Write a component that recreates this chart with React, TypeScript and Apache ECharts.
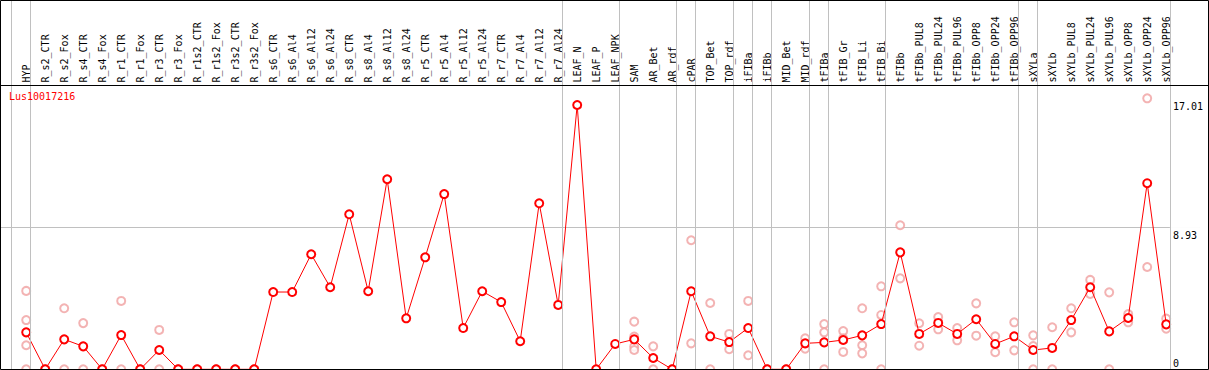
import React, { useEffect, useRef } from "react";
import * as echarts from "echarts";

const categories: string[] = [
  "HYP", "R_s2_CTR", "R_s2_Fox", "R_s4_CTR", "R_s4_Fox", "R_r1_CTR", "R_r1_Fox",
  "R_r3_CTR", "R_r3_Fox", "R_r1s2_CTR", "R_r1s2_Fox", "R_r3s2_CTR", "R_r3s2_Fox",
  "R_s6_CTR", "R_s6_Al4", "R_s6_Al12", "R_s6_Al24", "R_s8_CTR", "R_s8_Al4", "R_s8_Al12",
  "R_s8_Al24", "R_r5_CTR", "R_r5_Al4", "R_r5_Al12", "R_r5_Al24", "R_r7_CTR", "R_r7_Al4",
  "R_r7_Al12", "R_r7_Al24", "LEAF_N", "LEAF_P", "LEAF_NPK", "SAM", "AR_Bet", "AR_rdf",
  "cPAR", "TOP_Bet", "TOP_rdf", "iFIBa", "iFIBb", "MID_Bet", "MID_rdf", "tFIBa",
  "tFIB_Gr", "tFIB_Li", "tFIB_Bi", "tFIBb", "tFIBb_PUL8", "tFIBb_PUL24", "tFIBb_PUL96",
  "tFIBb_OPP8", "tFIBb_OPP24", "tFIBb_OPP96", "sXYLa", "sXYLb", "sXYLb_PUL8",
  "sXYLb_PUL24", "sXYLb_PUL96", "sXYLb_OPP8", "sXYLb_OPP24", "sXYLb_OPP96",
];

// mean expression per sample
const means: number[] = [
  2.32, 0, 1.88, 1.44, 0, 2.15, 0, 1.21, 0, 0, 0, 0, 0,
  4.85, 4.85, 7.22, 5.15, 9.73, 4.9, 11.93, 3.2, 7.03, 11.0, 2.59, 4.9, 4.22, 1.76,
  10.42, 4.04, 16.59, 0, 1.59, 1.88, 0.71, 0, 4.9, 2.07, 1.71, 2.59, 0, 0, 1.63, 1.69,
  1.84, 2.13, 2.84, 7.34, 2.22, 2.91, 2.22, 3.14, 1.59, 2.07, 1.21, 1.34, 3.09,
  5.15, 2.38, 3.22, 11.68, 2.82,
];

// individual replicate values per sample (same order as categories)
const replicates: number[][] = [
  [4.92, 3.09, 1.51, 0], [0, 0], [3.83, 0], [2.9, 0], [0, 0], [4.29, 0], [0, 0],
  [2.47, 0], [0, 0], [0, 0], [0, 0], [0, 0], [0, 0],
  [], [], [], [], [], [], [], [], [], [], [], [], [], [], [], [], [], [], [],
  [2.99, 2.05, 1.42, 1.21], [1.44, 0], [0, 0], [8.1, 1.63], [4.16, 0], [2.22, 1.26],
  [4.29, 0.88], [0, 0], [0, 0], [1.95, 1.29], [2.84, 2.32, 0], [2.4, 1.95, 1.09],
  [3.83, 1.51, 1.0], [5.21, 3.41, 0], [9.04, 5.71], [2.89, 1.48], [3.28, 2.51],
  [2.59, 1.82], [4.14, 2.11], [2.07, 1.07], [2.95, 1.19], [2.13, 1.46, 0], [2.64, 0],
  [3.83, 2.32], [5.61, 4.73], [4.83, 0], [3.47, 2.95], [17.01, 6.42], [3.18, 2.55],
];

// sample groups: a separator line follows each of these samples
const groupEnds: string[] = [
  "HYP", "R_r7_Al24", "LEAF_NPK", "AR_rdf", "cPAR", "TOP_rdf", "iFIBa", "iFIBb",
  "MID_rdf", "tFIBa", "tFIB_Bi", "tFIBb_OPP96", "sXYLa", "sXYLb_OPP96",
];

const yTickLabels = { max: 17.01, mid: 8.93 };
const geneName = "Lus10017216";

const W = 1209;
const H = 370;
const MONO = "'DejaVu Sans Mono', monospace";
const FIRST_CENTER = 26.2;
const BAND = 19;
const SEP_OFFSET = 4.3 / BAND;
const HEADER_Y = 85.5;
const PLOT_TOP = 98.3;
const PLOT_BOTTOM = 0.7;

export default function App() {
  const ref = useRef<HTMLDivElement>(null);

  useEffect(() => {
    document.body.style.margin = "0";
    if (!ref.current) return;
    const chart = echarts.init(ref.current, undefined, { renderer: "svg" });

    const left = FIRST_CENTER - BAND / 2;
    const bandWidth = BAND * categories.length;
    const right = W - left - bandWidth;

    const sepIdx = [-1, ...groupEnds.map((n) => categories.indexOf(n))];

    const repData: [string, number][] = [];
    replicates.forEach((reps, i) => {
      reps.forEach((v) => repData.push([categories[i], v]));
    });

    chart.setOption({
      animation: false,
      backgroundColor: "#fff",
      title: {
        text: geneName,
        left: 9,
        top: 91,
        padding: 0,
        textStyle: { color: "#ff0000", fontSize: 10, fontFamily: MONO, fontWeight: "normal" },
      },
      grid: [
        { left, right, top: PLOT_TOP, bottom: PLOT_BOTTOM },
        { left, right, top: 0, height: HEADER_Y },
        { left: 0, right: 0, top: 0, bottom: PLOT_BOTTOM },
        { left: 0, right: 0, top: PLOT_TOP, bottom: PLOT_BOTTOM },
      ],
      xAxis: [
        { type: "category", gridIndex: 0, data: categories, show: false },
        {
          type: "category",
          gridIndex: 1,
          data: categories,
          position: "bottom",
          axisLine: { show: false },
          axisTick: { show: false },
          axisLabel: {
            inside: true,
            rotate: 90,
            interval: 0,
            margin: 3,
            fontSize: 10,
            fontFamily: MONO,
            color: "#000",
          },
        },
        {
          type: "value",
          gridIndex: 2,
          min: (0 - FIRST_CENTER) / BAND,
          max: (W - FIRST_CENTER) / BAND,
          show: false,
        },
        { type: "value", gridIndex: 3, show: false },
      ],
      yAxis: [
        { type: "value", gridIndex: 0, min: 0, max: yTickLabels.max, show: false },
        { type: "value", gridIndex: 1, show: false },
        { type: "value", gridIndex: 2, min: 0, max: 1, show: false },
        {
          type: "value",
          gridIndex: 3,
          min: 0,
          max: yTickLabels.max,
          interval: yTickLabels.mid,
          position: "right",
          axisLine: { show: false },
          axisTick: { show: false },
          axisLabel: {
            inside: true,
            align: "left",
            margin: 30,
            verticalAlign: "top",
            verticalAlignMinLabel: "bottom",
            fontSize: 10,
            fontFamily: MONO,
            color: "#000",
            backgroundColor: "#fff",
            padding: [3, 3, 1, 3],
          },
          splitLine: {
            show: true,
            showMinLine: false,
            showMaxLine: false,
            lineStyle: { color: "#c0c0c0", width: 1 },
          },
        },
      ],
      series: [
        {
          type: "line",
          xAxisIndex: 2,
          yAxisIndex: 2,
          data: [],
          silent: true,
          markLine: {
            silent: true,
            symbol: "none",
            label: { show: false },
            lineStyle: { color: "#c0c0c0", type: "solid", width: 1 },
            data: sepIdx.map((i) => ({ xAxis: i + SEP_OFFSET })),
          },
        },
        {
          type: "scatter",
          xAxisIndex: 0,
          yAxisIndex: 0,
          data: repData,
          symbol: "emptyCircle",
          symbolSize: 8,
          itemStyle: { color: "#f0a0a0", borderColor: "#f0a0a0", borderWidth: 1.2 },
          z: 3,
        },
        {
          type: "line",
          xAxisIndex: 0,
          yAxisIndex: 0,
          data: means,
          symbol: "emptyCircle",
          symbolSize: 8,
          showAllSymbol: true,
          lineStyle: { color: "#ff0000", width: 1 },
          itemStyle: { color: "#ff0000", borderColor: "#ff0000", borderWidth: 1.2 },
          z: 4,
        },
      ],
      graphic: [
        {
          type: "rect",
          silent: true,
          z: 100,
          shape: { x: 0.5, y: 0.5, width: W - 1, height: 369 },
          style: { fill: "none", stroke: "#000", lineWidth: 1 },
        },
        {
          type: "line",
          silent: true,
          z: 100,
          shape: { x1: 0, y1: HEADER_Y, x2: W, y2: HEADER_Y },
          style: { stroke: "#000", lineWidth: 1 },
        },
      ],
    });

    return () => chart.dispose();
  }, []);

  return <div ref={ref} style={{ width: W, height: H }} />;
}
